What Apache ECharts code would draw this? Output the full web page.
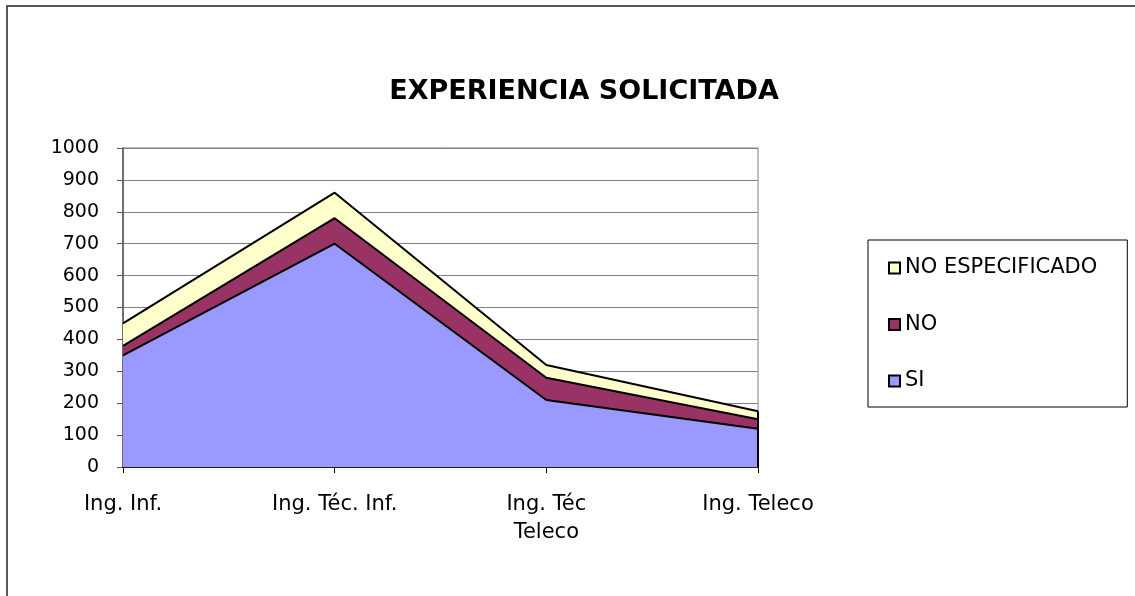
<!DOCTYPE html>
<html><head><meta charset="utf-8">
<script src="https://cdn.jsdelivr.net/npm/echarts@6/dist/echarts.min.js"></script>
<style>html,body{margin:0;padding:0;background:#fff}#c{width:1135px;height:596px}</style>
</head><body><div id="c"></div>
<script>
const categories = ['Ing. Inf.', 'Ing. Téc. Inf.', 'Ing. Téc\nTeleco', 'Ing. Teleco'];
const si = [350, 700, 210, 120];
const no = [30, 80, 70, 30];
const noEsp = [70, 80, 40, 25];
const yTicks = {min: 0, max: 1000, interval: 100};

const font = '"DejaVu Sans", Arial, sans-serif';
const chart = echarts.init(document.getElementById('c'));
const last = categories.length - 1;
const lastTotal = si[last] + no[last] + noEsp[last];
function area(name, data, color, extra) {
  return Object.assign({
    name, type: 'line', stack: 'total', data, symbol: 'none',
    lineStyle: {color: '#000', width: 2},
    itemStyle: {color: color, borderColor: '#000', borderWidth: 1.5},
    areaStyle: {color: color, opacity: 1},
    emphasis: {disabled: true}
  }, extra || {});
}
chart.setOption({
  animation: false,
  backgroundColor: '#fff',
  title: {
    text: 'EXPERIENCIA SOLICITADA', left: 579, top: 73, textAlign: 'center',
    textStyle: {fontFamily: font, fontSize: 27, fontWeight: 'bold', color: '#000'}
  },
  graphic: [{
    type: 'rect', shape: {x: 7, y: 6, width: 1300, height: 800}, silent: true,
    style: {fill: 'none', stroke: '#222', lineWidth: 1.5}
  }],
  legend: {
    orient: 'vertical', left: 868, top: 240,
    data: ['NO ESPECIFICADO', 'NO', 'SI'],
    itemWidth: 11, itemHeight: 11, itemGap: 35.5, icon: 'rect',
    padding: [17.5, 30, 15.5, 20],
    borderColor: '#000', borderWidth: 1,
    textStyle: {fontFamily: font, fontSize: 21, color: '#000'},
    selectedMode: false
  },
  grid: {left: 123, right: 377, top: 148, bottom: 129, show: true, borderColor: '#808080', borderWidth: 1},
  xAxis: {
    type: 'category', data: categories, boundaryGap: false,
    axisLine: {lineStyle: {color: '#000', width: 1.5}},
    axisTick: {show: true, length: 6, lineStyle: {color: '#000'}},
    axisLabel: {fontFamily: font, fontSize: 21, color: '#000', margin: 24, lineHeight: 28, interval: 0}
  },
  yAxis: {
    type: 'value', min: yTicks.min, max: yTicks.max, interval: yTicks.interval,
    axisLine: {show: true, lineStyle: {color: '#555', width: 1.5}},
    axisTick: {show: true, length: 6, lineStyle: {color: '#555'}},
    splitLine: {lineStyle: {color: '#808080', width: 1}},
    axisLabel: {fontFamily: font, fontSize: 19, color: '#000', margin: 24, formatter: v => String(v)}
  },
  series: [
    area('SI', si, '#9999FF'),
    area('NO', no, '#993366'),
    area('NO ESPECIFICADO', noEsp, '#FFFFCC', {
      markLine: {
        silent: true, symbol: 'none', label: {show: false},
        lineStyle: {color: '#000', width: 2, type: 'solid'},
        data: [[{coord: [last, 0]}, {coord: [last, lastTotal]}]]
      }
    })
  ]
});
</script></body></html>
